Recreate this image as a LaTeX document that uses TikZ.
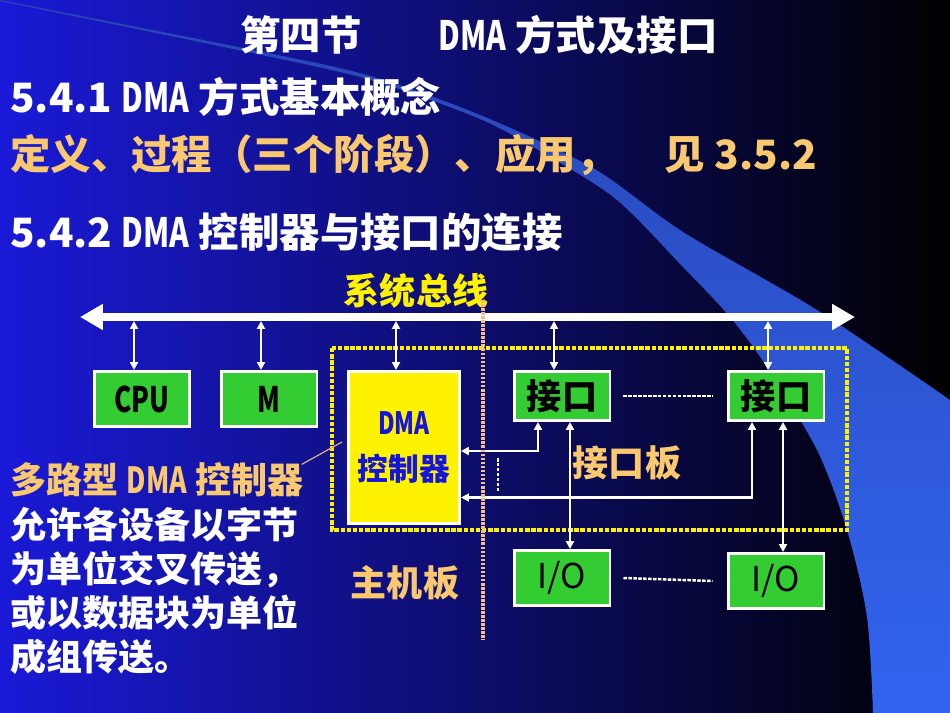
\documentclass[tikz,border=0pt]{standalone}
\usepackage{fontspec}
\setmainfont{Noto Sans CJK SC}
\usetikzlibrary{arrows.meta,positioning,calc}
\definecolor{boxgreen}{RGB}{51,204,51}
\definecolor{txtorange}{RGB}{250,200,110}
\definecolor{ctrlblue}{RGB}{20,20,220}
\definecolor{bgblue}{RGB}{26,26,216}
\definecolor{bandblue}{RGB}{50,100,240}
\definecolor{banddark}{RGB}{40,70,180}
\definecolor{splitorange}{RGB}{245,190,135}
\definecolor{pointertan}{RGB}{220,175,120}
\newcommand{\slim}[1]{\scalebox{0.74}[1]{#1}}

\begin{document}
\begin{tikzpicture}[x=0.02cm, y=-0.02cm,
    greenbox/.style={rectangle, draw=white, line width=1.7pt, fill=boxgreen, minimum width=1.92cm, minimum height=1.1cm, inner sep=0pt, font=\fontsize{20}{24}\selectfont\bfseries},
    portbox/.style={greenbox, minimum height=0.98cm},
    iobox/.style={greenbox, font=\fontsize{19.5}{23}\selectfont},
    ctrlbox/.style={rectangle, draw=white, line width=1.7pt, fill=yellow, minimum width=2.22cm, minimum height=3.04cm, align=center, text=ctrlblue, font=\fontsize{17.5}{26.6}\selectfont\bfseries},
    bus/.style={{Triangle[length=13pt,width=14pt]}-{Triangle[length=13pt,width=14pt]}, white, line width=4pt},
    link/.style={{Triangle[length=4.5pt,width=4.5pt]}-{Triangle[length=4.5pt,width=4.5pt]}, white, line width=1.3pt},
    sepline/.style={white, line width=1.4pt, dash pattern=on 2pt off 0.8pt},
    board/.style={yellow, line width=2pt, dash pattern=on 2.5pt off 1pt},
    head/.style={anchor=west, inner sep=0pt, text=white, font=\fontsize{23}{28}\selectfont\bfseries},
    note/.style={inner sep=0pt, text=txtorange, font=\fontsize{20.5}{25}\selectfont\bfseries}
  ]
    % background and the curved band
    \useasboundingbox (0,0) rectangle (950,713);
    \shade[left color=bgblue, right color=black] (0,0) rectangle (950,713);
    \shade[top color=banddark, bottom color=bandblue]
      plot[smooth] coordinates {(0,0) (233,46) (367,75) (480,115) (593,168) (683,232) (817,310) (950,400)}
      -- (950,713)
      -- plot[smooth] coordinates {(873,713) (867,617) (847,530) (817,450) (767,367) (730,317) (683,267) (617,200) (550,157) (480,119) (367,79) (233,49) (0,1)}
      -- cycle;

    % titles
    \node[head] (title) at (240,35) {第四节\hspace{1.9em}\slim{DMA} 方式及接口};
    \node[head] (sec1) at (10,97) {5.4.1 \slim{DMA} 方式基本概念};
    \node[head, text=txtorange] (def) at (10,155) {定义、过程（三个阶段）、应用，\hspace{1.2em}见 3.5.2};
    \node[head] (sec2) at (10,232) {5.4.2 \slim{DMA} 控制器与接口的连接};

    % system bus
    \node[note, text=yellow] (buslabel) at (416,291) {系统总线};
    \coordinate (busL) at (80,317);
    \coordinate (busR) at (855,317);
    \coordinate (busbot) at (0,321);
    \draw[bus] (busL) -- (busR);

    % boards
    \draw[board] (332,348) rectangle (847,530);

    % units
    \node[greenbox] (cpu) at (142,399) {\slim{CPU}};
    \node[greenbox] (mem) at (269,399) {\slim{M}};
    \node[ctrlbox] (dma) at (404,447.5) {\slim{DMA}\\控制器};
    \node[portbox] (jk1) at (562,396) {接口};
    \node[portbox] (jk2) at (776,396) {接口};
    \node[iobox] (io1) at (562,578) {I/O};
    \node[iobox] (io2) at (776,581) {I/O};

    \foreach \n in {cpu,mem,dma,jk1,jk2}
      \draw[link] ($(\n.north)+(-8,0)$) coordinate (tmp) -- (tmp |- busbot);

    \draw[link] ($(jk1.south)+(-24,0)$) |- ($(dma.east)+(0,3.5)$);
    \draw[link] ($(jk2.south)+(-24,0)$) |- ($(dma.east)+(0,50)$);
    \draw[link] ($(jk1.south)+(8,0)$) -- ($(io1.north)+(8,0)$);
    \draw[link] ($(jk2.south)+(7,0)$) -- ($(io2.north)+(7,0)$);

    \draw[sepline] ($(jk1.east)+(12,0)$) -- ($(jk2.west)+(-14,0)$);
    \draw[sepline] ($(io1.east)+(12,0)$) -- ($(io2.west)+(-14,0)$ |- io1.east);
    \draw[sepline] (498,458) -- (498,492);

    \node[note] (portboard) at (627,463) {接口板};
    \node[note] (hostboard) at (405,583) {主机板};

    % left notes
    \node[note, anchor=west] (multi) at (10,480) {多路型 \slim{DMA} 控制器};
    \node[note, anchor=north west, text=white, align=left] (para) at (10,507) {允许各设备以字节\\为单位交叉传送，\\或以数据块为单位\\成组传送。};
    \coordinate (dmaptr) at (342,442);
    \draw[pointertan, line width=0.7pt] ($(multi.north east)+(-2,2)$) -- (dmaptr);

    % host / port split
    \draw[splitorange, line width=1.9pt, dash pattern=on 1.5pt off 0.8pt] (483,300) -- (483,640);
  \end{tikzpicture}
\end{document}
